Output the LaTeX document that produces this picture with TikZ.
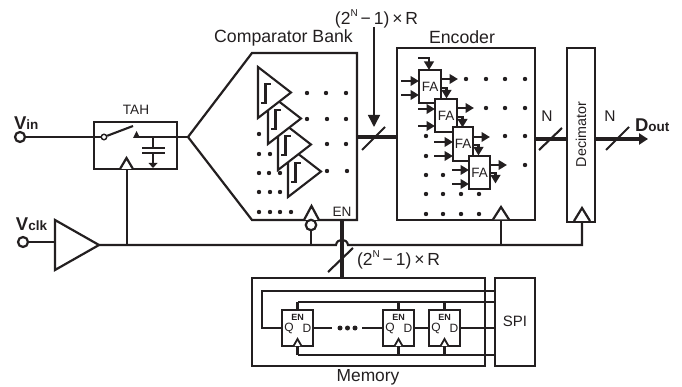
\documentclass[tikz,border=0pt]{standalone}
\usepackage{fontspec}
\setmainfont{Liberation Sans}
\usetikzlibrary{arrows.meta}
\definecolor{ink}{HTML}{231F20}
\newcommand{\fsz}[1]{\fontsize{#1}{#1}\selectfont}
\newcommand{\twoN}{(2\raisebox{0.42em}{\fsz{10}N}\,−\,1)\,×\,R}
\tikzset{
  wire/.style={line width=2.1pt,draw=ink},
  bus/.style={line width=3.8pt,draw=ink},
  slashline/.style={line width=2.1pt,draw=ink},
  block/.style={draw=ink,line width=2.2pt,fill=white,inner sep=0pt,outer sep=0pt,rectangle},
  lbl/.style={text=ink,inner sep=0pt,outer sep=0pt},
  arr/.style={line width=2.1pt,draw=ink,-{Triangle[length=8.5pt,width=9.5pt]}},
  bigarr/.style={line width=1.5pt,draw=ink,-{Triangle[length=12pt,width=12pt]}},
  term/.style={circle,draw=ink,line width=2.2pt,fill=white,minimum size=10pt,inner sep=0pt,outer sep=0pt},
  dot/.style={circle,fill=ink,minimum size=4.4pt,inner sep=0pt},
  clockmark/.style={line width=2.2pt,draw=ink,fill=white,line join=miter}
}
\begin{document}
\begin{tikzpicture}[x=1pt,y=-1pt,line join=miter]
\useasboundingbox (0,0) rectangle (682,387);
% --- terminals and labels
\node[term] (vin) at (20,137) {};
\node[term] (vclk) at (23,242) {};
\node[lbl,anchor=west,font=\bfseries] (vinl) at (14,123) {\fsz{18.5}V\fsz{13.5}in};
\node[lbl,anchor=west,font=\bfseries] (vclkl) at (16,224) {\fsz{18.5}V\fsz{13.5}clk};
% --- TAH
\node[block,minimum width=83pt,minimum height=47pt] (tah) at (135.5,145.5) {};
\node[lbl,font=\fsz{13.6}] (tahl) at (136,110) {TAH};
\coordinate (split) at (188,137);
\node[circle,draw=ink,line width=1.4pt,fill=white,minimum size=5.5pt,inner sep=0pt] (sw) at (104,137) {};
\coordinate (swtip) at (133,126);
\coordinate (capn) at (153,137);
\draw[wire] (vin) -- (sw);
\draw[wire] (sw) -- (swtip);
\draw[wire] (136,137) -- (split);
\fill[ink] (133,138) -- (136.5,131) -- (140,138) -- cycle;
\draw[wire] (capn) -- (153,147.5);
\draw[wire] (142,148) -- (165,148);
\draw[wire] (142,153) -- (165,153);
\draw[wire] (153,153) -- (153,163);
\fill[ink] (148.5,163) -- (157.5,163) -- (153,168) -- cycle;
\draw[clockmark] (120,169) -- (126.5,158) -- (133,169);
% --- clock buffer and line
\coordinate (bufin) at (55,242);
\coordinate (bufout) at (99,245);
\draw[clockmark] (55,220) -- (55,270) -- (bufout) -- cycle;
\draw[wire] (vclk) -- (bufin);
\draw[wire] (bufout) -- (336,245) .. controls (337,238) and (347,238) .. (348,245) -- (501,245) -- (582,245) -- (582,222);
\draw[line width=2.5pt,draw=ink] (127,245) -- (127,169);
% --- comparator bank
\coordinate (cb1) at (252,53);
\coordinate (cb2) at (357,53);
\coordinate (cb3) at (357,220);
\coordinate (cb4) at (252,220);
\draw[line width=2.2pt,draw=ink] (split) -- (cb1) -- (cb2) -- (cb3) -- (cb4) -- cycle;
\node[lbl,font=\fsz{17.7}] (cbl) at (283.5,38) {Comparator Bank};
\foreach \i/\dx/\dy in {4/30/79,3/20/52,2/10/26,1/0/0}{
  \begin{scope}[shift={(\dx,\dy)}]
  \draw[line width=2.1pt,draw=ink,fill=white] (258,67) -- (258,118) -- (291,92.5) -- cycle;
  \draw[line width=2.1pt,draw=ink] (261,103) -- (265.5,103) -- (265.5,84) -- (271,84);
  \end{scope}
}
\foreach \x/\y in {307/93,326/93,346/93,307/119,327/119,346/119,327/144,346/144,327/171,347/171,
  259/134,259/154,270/154,259/173,269/173,280/173,259/192,270/192,280/192,259/212,270/212,280/212,291/212}
  \node[dot] at (\x,\y) {};
\draw[clockmark] (304,220) -- (311.5,206) -- (319,220);
\node[term,minimum size=10.5pt] (bub) at (311,225) {};
\draw[wire] (bub) -- (311,245);
\node[lbl,font=\fsz{13.6}] (enl) at (342,212) {EN};
% --- encoder
\node[block,minimum width=138pt,minimum height=172pt] (enc) at (466,134) {};
\node[lbl,font=\fsz{17.7}] (encl) at (462,37) {Encoder};
\draw[bus] (cb2 |- 0,137) -- (enc.west |- 0,137);
\draw[slashline] (362,150) -- (385,127);
\coordinate (rtop) at (374,27);
\coordinate (rtip) at (374,127);
\draw[bigarr] (rtop) -- (rtip);
\node[lbl,font=\fsz{17.5}] (rl1) at (376.5,19) {\twoN};
\foreach \i/\xa/\xb/\ya/\yb in {1/419/441/70/103,2/435/457/99/132,3/453/473/127/161,4/469/490/156/189}{
  \node[block,minimum width=\xb pt-\xa pt,minimum height=\yb pt-\ya pt,font=\fsz{13.5},text=ink] (fa\i) at ({(\xa+\xb)/2},{(\ya+\yb)/2}) {FA};
}
\foreach \i/\xl/\yu/\yd/\yo/\yc in {1/401/81/95/79/88,2/418/109/126/108/117,3/434/142/156/137/145,4/452/170/184/165/173}{
  \draw[arr] (\xl,\yu) -- (fa\i.west |- 0,\yu);
  \draw[arr] (\xl,\yd) -- (fa\i.west |- 0,\yd);
  \draw[arr] (fa\i.east |- 0,\yo) -- ++(17,0);
  \draw[arr] (fa\i.east |- 0,\yc) -- ++(5.5,0) -- ++(0,10.5);
}
\draw[arr] (418,58) -- (429,58) -- (fa1.north -| 429,0);
\foreach \x/\y in {466/79,486/79,505/79,525/79,486/108,505/108,525/108,426/136,505/136,525/136,426/156,525/165,
  426/175,443/175,426/194,443/194,461/194,479/194,426/214,443/214,461/214,479/214}
  \node[dot] at (\x,\y) {};
\draw[clockmark] (493,219.5) -- (501,207) -- (509,219.5);
\draw[wire] (501,245) -- (501,220);
% --- decimator
\node[block,minimum width=28pt,minimum height=174pt] (dec) at (581,135) {};
\node[lbl,font=\fsz{14.3},rotate=90] (decl) at (581,134.5) {Decimator};
\draw[clockmark] (574,221) -- (582,208) -- (590,221);
\draw[bus] (enc.east |- 0,139) -- (dec.west |- 0,139);
\draw[slashline] (539,150) -- (562,128);
\node[lbl,font=\fsz{15.5}] (n1) at (547,116) {N};
\coordinate (dtip) at (648,139);
\draw[bus,-{Triangle[length=9pt,width=11pt]}] (dec.east |- 0,139) -- (dtip);
\draw[slashline] (606,150) -- (629,127);
\node[lbl,font=\fsz{15.5}] (n2) at (610,116) {N};
\node[lbl,anchor=west,font=\bfseries] (doutl) at (635,125) {\fsz{18.5}D\fsz{13.5}out};
% --- memory
\node[block,minimum width=233pt,minimum height=88pt] (mem) at (368.5,322) {};
\node[block,minimum width=40pt,minimum height=88pt] (spi) at (515,322) {};
\node[lbl,font=\fsz{15}] (spil) at (515,321) {SPI};
\node[lbl,font=\fsz{17.4}] (memp) at (368,377) {Memory};
\draw[bus] (342,220) -- (mem.north -| 342,0);
\draw[slashline] (328,272) -- (353,248);
\node[lbl,font=\fsz{17.5},anchor=west] (rl2) at (357,260) {\twoN};
\foreach \i/\xc in {1/297.5,2/398.5,3/444.5}{
  \node[block,minimum width=31pt,minimum height=36pt] (ff\i) at (\xc,328) {};
  \node[lbl,font=\bfseries\fsz{9}] at (\xc,317) {EN};
  \node[lbl,font=\fsz{12}] at (\xc-8.5,328.5) {Q};
  \node[lbl,font=\fsz{12}] at (\xc+9.5,328.5) {D};
  \draw[line width=1.8pt,draw=ink,fill=white] (\xc-4,346) -- (\xc,339) -- (\xc+4,346);
  \draw[wire] (\xc,302) -- (ff\i.north);
  \draw[wire] (\xc,355) -- (ff\i.south);
}
\draw[wire] (spi.west |- 0,291) -- (262,291) -- (262,328) -- (ff1.west);
\draw[wire] (spi.west |- 0,302) -- (297.5,302);
\draw[wire] (spi.west |- 0,355) -- (297.5,355);
\draw[wire] (ff1.east) -- (332,328);
\draw[wire] (362,328) -- (ff2.west);
\draw[wire] (ff2.east) -- (ff3.west);
\draw[wire] (ff3.east) -- (spi.west |- ff3.east);
\foreach \x in {340,347.5,355} \node[dot,minimum size=5pt] at (\x,328) {};
\end{tikzpicture}
\end{document}
